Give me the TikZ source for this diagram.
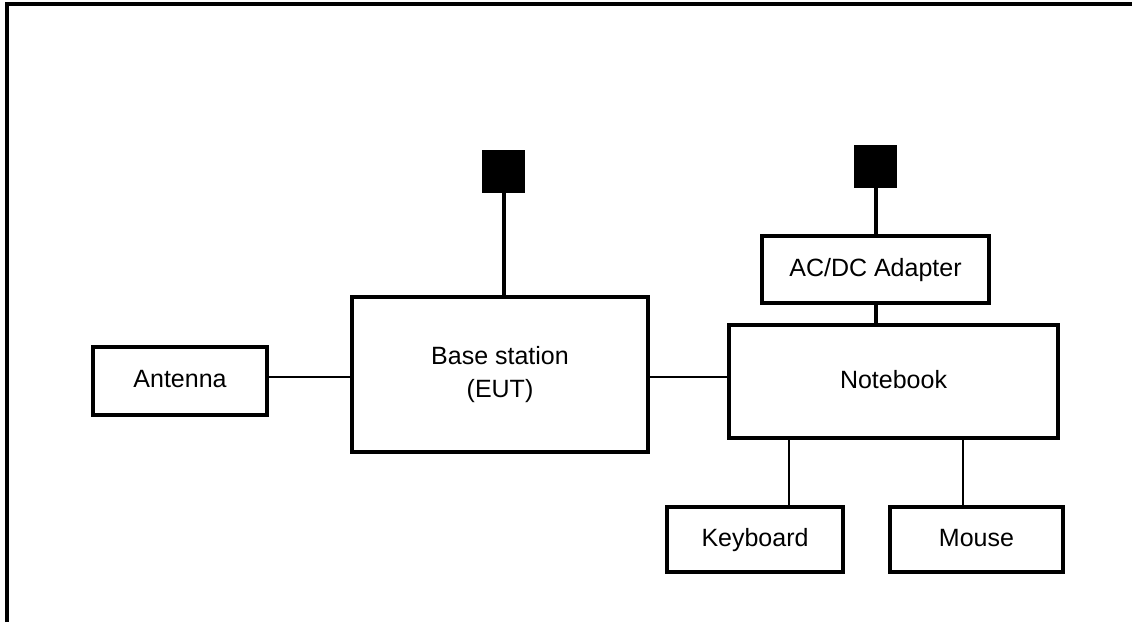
\documentclass[tikz,border=0pt]{standalone}
\usepackage{fontspec}
\setmainfont{Liberation Sans}
\begin{document}
\begin{tikzpicture}[x=1pt, y=-1pt, font=\fontsize{25}{33}\selectfont, unitbox/.style={rectangle, draw=black, line width=3.5pt, inner sep=0pt, align=center, minimum width=#1}, oneline/.style={text height=18pt, text depth=5pt}, plug/.style={rectangle, fill=black, inner sep=0pt, minimum width=43pt, minimum height=43pt}]
  \useasboundingbox (0,0) rectangle (1132,622);
  % outer frame (top and left edges only)
  \draw[line width=4pt] (6.5,622) -- (6.5,4) -- (1132,4);
  \node[unitbox=296pt, minimum height=155pt] (base) at (500,374.5) {Base station\\(EUT)};
  \node[unitbox=174pt, minimum height=68pt, oneline] (antenna) at (180,381) {Antenna};
  \node[unitbox=329pt, minimum height=113pt, oneline] (notebook) at (893.5,381.5) {Notebook};
  \node[unitbox=227pt, minimum height=67pt, oneline] (adapter) at (875.5,269.5) {AC/DC Adapter};
  \node[unitbox=176pt, minimum height=65pt, oneline] (keyboard) at (755,539.5) {Keyboard};
  \node[unitbox=173pt, minimum height=65pt, oneline] (mouse) at (976.5,539.5) {Mouse};
  \node[plug] (plug1) at (503.5,171) {};
  \node[plug] (plug2) at (875.5,166) {};
  % cables
  \draw[line width=2.2pt] (base.west |- 0,377) -- (antenna.east |- 0,377);
  \draw[line width=2.2pt] (base.east |- 0,377) -- (notebook.west |- 0,377);
  \draw[line width=2.2pt] (keyboard.north -| 789,0) -- (notebook.south -| 789,0);
  \draw[line width=2.2pt] (mouse.north -| 963,0) -- (notebook.south -| 963,0);
  \draw[line width=4pt] (plug1.south) -- (plug1.south |- base.north);
  \draw[line width=4pt] (plug2.south) -- (adapter.north);
  \draw[line width=4pt] (adapter.south) -- (adapter.south |- notebook.north);
\end{tikzpicture}
\end{document}
